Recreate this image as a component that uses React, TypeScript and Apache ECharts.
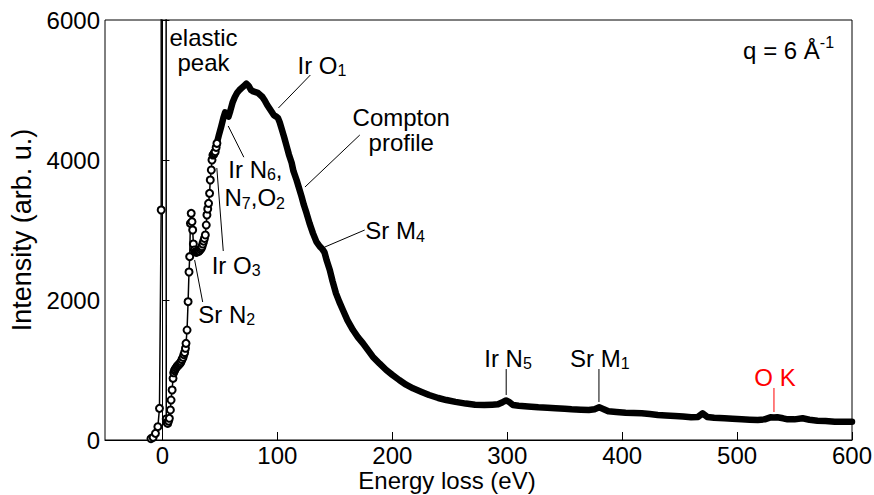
import React, { useEffect, useRef } from 'react';
import * as echarts from 'echarts';

// Low-energy part (individual measured points with markers), eV / intensity
const lowEnergy = [
  -10, -8.1, -6.1, -4.0, -2.6, -1.1, -0.9, 0.5, 2.6, 3.3, 4.0, 4.6, 5.3, 6.0, 6.9, 7.5, 8.4, 9.2, 9.8,
  10.4, 11.0, 11.8, 12.7, 13.5, 14.2, 15.0, 15.6, 16.2, 17.0, 17.9, 18.6, 19.3, 20.0, 20.5, 21.4,
  22.3, 23.1, 23.7, 24.3, 25.0, 25.7, 26.3, 26.9, 27.7, 28.6, 29.5, 30.4, 31.2, 32.0, 32.9, 33.7,
  34.4, 35.1, 35.8, 36.5, 37.3, 38.1, 38.7, 39.4, 40.1, 41.0, 41.6, 42.5, 43.1, 43.9, 44.5, 45.2,
  45.9, 46.7, 47.4,
];
const lowIntensity = [
  20, 38, 95, 190, 452, 3286, 40000, 90000, 40000, 300, 250, 238, 270, 310, 429, 571, 714, 881, 960,
  990, 1010, 1030, 1050, 1065, 1075, 1090, 1100, 1120, 1150, 1180, 1220, 1250, 1310, 1381, 1571,
  1976, 2400, 2619, 3095, 3238, 3119, 3000, 2800, 2714, 2690, 2680, 2690, 2700, 2700, 2720, 2740,
  2762, 2800, 2840, 2880, 2929, 3071, 3214, 3300, 3381, 3524, 3714, 3857, 4000, 4071, 4080, 4100,
  4119, 4180, 4238,
];

// Dense part of the spectrum (drawn as a thick band)
const mainEnergy = [
  43, 45, 47, 49, 51, 53, 54.5, 56, 57.5, 59, 61, 63, 65, 67, 69, 71, 73, 75, 77, 79, 81, 83, 85,
  87, 89, 91, 93, 95, 97, 99, 100.5, 102, 104, 106, 108, 110, 112.4, 114, 116.7, 119, 121, 123,
  125.4, 128, 131, 134, 137, 139, 141, 143, 145.6, 148, 151, 154, 157, 161, 165.8, 170, 174.5, 179,
  183, 189, 194.7, 200, 206, 212, 218, 225, 232, 240, 247, 255, 264, 272, 280, 287, 292, 296, 299,
  302, 305, 310, 318, 327, 335, 342, 350, 356, 364, 371, 376, 380, 384, 388, 395, 403, 410, 417,
  424, 431, 438, 446, 453, 460, 466, 470, 474, 480, 489, 496, 504, 511, 518, 524, 529, 532, 535,
  540, 544, 550, 557, 563, 570, 577, 585, 592, 600,
];
const mainIntensity = [
  4000, 4100, 4220, 4350, 4470, 4600, 4680, 4640, 4620, 4700, 4820, 4900, 4960, 5000, 5030, 5060,
  5090, 5060, 5000, 4980, 4970, 4960, 4930, 4900, 4850, 4790, 4740, 4690, 4640, 4620, 4600, 4540,
  4430, 4320, 4200, 4080, 3960, 3840, 3714, 3590, 3480, 3360, 3238, 3095, 2952, 2830, 2762, 2730,
  2680, 2560, 2429, 2270, 2095, 1970, 1857, 1710, 1571, 1470, 1381, 1280, 1190, 1090, 1000, 930,
  857, 790, 738, 690, 643, 600, 571, 545, 520, 505, 500, 505, 510, 540, 565, 540, 500, 490, 480,
  467, 460, 452, 445, 438, 433, 429, 440, 467, 440, 410, 400, 390, 385, 381, 370, 357, 350, 343,
  335, 324, 330, 381, 330, 318, 310, 302, 295, 290, 286, 295, 324, 320, 324, 310, 295, 295, 310,
  290, 276, 270, 262, 262, 262,
];

const xTicks = [0, 100, 200, 300, 400, 500, 600];
const yTicks = [0, 2000, 4000, 6000];
const xTitle = 'Energy loss (eV)';
const yTitle = 'Intensity (arb. u.)';

// Annotation texts anchored in data coordinates
const labels = [
  { text: 'elastic', x: 35.7, y: 5757, align: 'center', color: '#000' },
  { text: 'peak', x: 35.7, y: 5400, align: 'center', color: '#000' },
  { text: 'Ir O{sub|1}', x: 117.5, y: 5357, align: 'left', color: '#000' },
  { text: 'Compton', x: 207.8, y: 4614, align: 'center', color: '#000' },
  { text: 'profile', x: 207.8, y: 4257, align: 'center', color: '#000' },
  { text: 'Ir N{sub|6},', x: 57.3, y: 3870, align: 'left', color: '#000' },
  { text: 'N{sub|7},O{sub|2}', x: 54, y: 3460, align: 'left', color: '#000' },
  { text: 'Ir O{sub|3}', x: 42.8, y: 2500, align: 'left', color: '#000' },
  { text: 'Sr N{sub|2}', x: 31.2, y: 1800, align: 'left', color: '#000' },
  { text: 'Sr M{sub|4}', x: 176.5, y: 2986, align: 'left', color: '#000' },
  { text: 'Ir N{sub|5}', x: 280, y: 1171, align: 'left', color: '#000' },
  { text: 'Sr M{sub|1}', x: 354.6, y: 1171, align: 'left', color: '#000' },
  { text: 'O K', x: 515, y: 886, align: 'left', color: '#ff0000' },
  { text: 'q = 6 Å{sup|-1}', x: 584.4, y: 5571, align: 'right', color: '#000' },
];

const leaders = [
  { from: [128.7, 5214], to: [100.9, 4743], color: '#000' },
  { from: [171.7, 4357], to: [124, 3614], color: '#000' },
  { from: [57.2, 4486], to: [70.8, 4040], color: '#000' },
  { from: [47.3, 3886], to: [52.9, 2700], color: '#000' },
  { from: [28, 2571], to: [35, 1971], color: '#000' },
  { from: [176, 3000], to: [141.3, 2757], color: '#000' },
  { from: [299.1, 1014], to: [299.1, 643], color: '#000' },
  { from: [379.8, 1014], to: [379.8, 543], color: '#000' },
  { from: [532.1, 743], to: [532.1, 400], color: '#ff0000' },
];

const FONT = '"Liberation Sans", Arial, sans-serif';

export default function App() {
  const ref = useRef<HTMLDivElement>(null);
  useEffect(() => {
    if (!ref.current) return;
    const chart = echarts.init(ref.current, null, { renderer: 'svg' });
    const lowData = lowEnergy.map((e, i) => [e, lowIntensity[i]]);
    const mainData = mainEnergy.map((e, i) => [e, mainIntensity[i]]);
    chart.setOption({
      animation: false,
      backgroundColor: '#fff',
      grid: {
        left: 105,
        right: 22,
        top: 20,
        bottom: 55,
        containLabel: false,
        outerBoundsMode: 'none',
        show: true,
        borderColor: '#000',
        borderWidth: 1,
        backgroundColor: 'transparent',
      },
      xAxis: {
        type: 'value',
        min: -50,
        max: 600,
        axisLine: { show: true, lineStyle: { color: '#000', width: 1 } },
        axisTick: { show: true, inside: true, length: 8, customValues: xTicks, lineStyle: { color: '#000' } },
        axisLabel: { customValues: xTicks, color: '#000', fontSize: 24, fontFamily: FONT, margin: 3 },
        splitLine: { show: false },
      },
      yAxis: {
        type: 'value',
        min: 0,
        max: 6000,
        interval: 2000,
        axisLine: { show: true, lineStyle: { color: '#000', width: 1 } },
        axisTick: { show: true, inside: true, length: 7, lineStyle: { color: '#000' } },
        axisLabel: {
          color: '#000',
          fontSize: 24,
          fontFamily: FONT,
          margin: 5,
          formatter: (v: number) => (yTicks.includes(v) ? String(v) : ''),
        },
        splitLine: { show: false },
        name: yTitle,
        nameLocation: 'middle',
        nameGap: 66,
        nameTextStyle: { color: '#000', fontSize: 27, fontFamily: FONT },
      },
      series: [
        {
          type: 'line',
          data: mainData,
          symbol: 'none',
          clip: true,
          z: 2,
          lineStyle: { color: '#000', width: 6.5, join: 'round', cap: 'round' },
        },
        {
          type: 'line',
          data: lowData,
          symbol: 'emptyCircle',
          symbolSize: 7,
          showSymbol: true,
          clip: true,
          z: 3,
          lineStyle: { color: '#000', width: 1.5 },
          itemStyle: { color: '#000', borderColor: '#000', borderWidth: 1.8 },
        },
      ],
    });

    const rich = {
      sub: { fontSize: 16, fontFamily: FONT, padding: [11, 0, 0, 0] },
      sup: { fontSize: 16, fontFamily: FONT, padding: [0, 0, 15, 0] },
    };
    const graphics: any[] = [
      {
        type: 'text',
        x: 447,
        y: 480,
        z: 10,
        style: {
          text: xTitle,
          fill: '#000',
          fontSize: 24,
          fontFamily: FONT,
          align: 'center',
          textAlign: 'center',
          verticalAlign: 'middle',
          textVerticalAlign: 'middle',
        },
      },
    ];
    leaders.forEach((l) => {
      const p1 = chart.convertToPixel({ gridIndex: 0 }, l.from) as number[];
      const p2 = chart.convertToPixel({ gridIndex: 0 }, l.to) as number[];
      graphics.push({
        type: 'line',
        shape: { x1: p1[0], y1: p1[1], x2: p2[0], y2: p2[1] },
        style: { stroke: l.color, lineWidth: 1 },
        z: 10,
      });
    });
    labels.forEach((t) => {
      const p = chart.convertToPixel({ gridIndex: 0 }, [t.x, t.y]) as number[];
      graphics.push({
        type: 'text',
        x: p[0],
        y: p[1],
        z: 10,
        style: {
          text: t.text,
          fill: t.color,
          fontSize: 24,
          fontFamily: FONT,
          align: t.align,
          textAlign: t.align,
          verticalAlign: 'middle',
          textVerticalAlign: 'middle',
          rich: {
            sub: { ...rich.sub, fill: t.color },
            sup: { ...rich.sup, fill: t.color },
          },
        },
      });
    });
    chart.setOption({ graphic: graphics });
    return () => chart.dispose();
  }, []);
  return (
    <div
      ref={ref}
      style={{ position: 'absolute', left: 0, top: 0, width: 874, height: 495, background: '#fff' }}
    />
  );
}
